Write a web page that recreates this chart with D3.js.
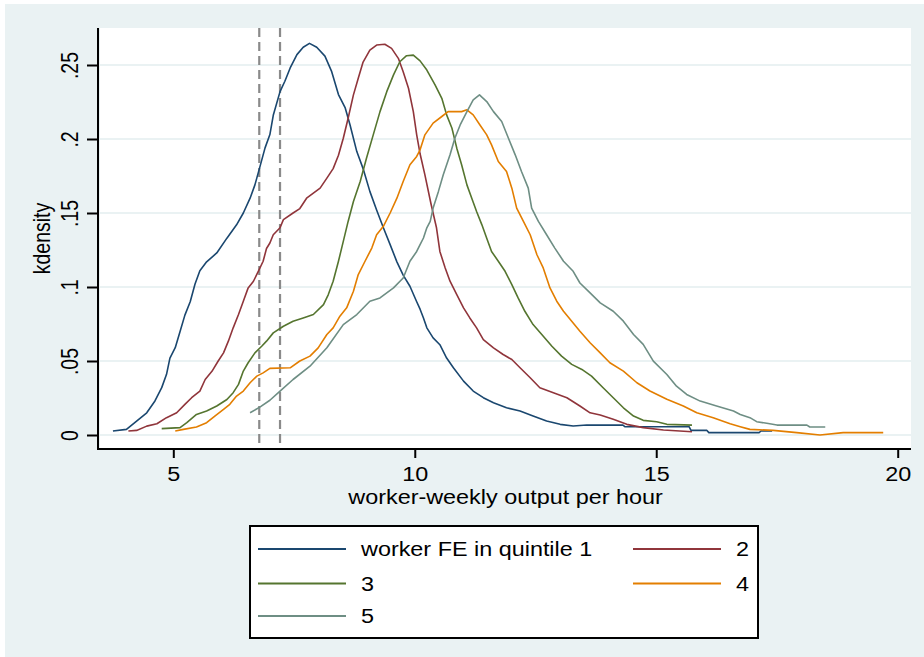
<!DOCTYPE html>
<html>
<head>
<meta charset="utf-8">
<script src="https://cdn.jsdelivr.net/npm/d3@7"></script>
<style>
  html, body { margin: 0; padding: 0; background: #ffffff; }
  svg { display: block; }
  text { font-family: "Liberation Sans", Arial, sans-serif; fill: #000; }
</style>
</head>
<body>
<svg id="chart" width="924" height="657"></svg>
<script>
// Kernel density of worker-weekly output per hour, by worker fixed-effect quintile
const quintile1 = [[3.75,.0027],[4.03,.0038],[4.24,.0094],[4.45,.015],[4.62,.023],[4.76,.032],[4.86,.041],[4.93,.052],[5.04,.059],[5.14,.070],[5.24,.081],[5.35,.090],[5.45,.102],[5.55,.111],[5.69,.117],[5.90,.123],[6.11,.133],[6.31,.142],[6.45,.150],[6.59,.160],[6.69,.169],[6.80,.182],[6.90,.194],[7.00,.203],[7.07,.216],[7.21,.232],[7.31,.239],[7.42,.248],[7.56,.257],[7.69,.262],[7.82,.2646],[7.97,.262],[8.14,.256],[8.28,.2455],[8.42,.230],[8.56,.221],[8.66,.2095],[8.80,.1915],[8.93,.180],[9.07,.1646],[9.21,.152],[9.35,.140],[9.49,.1286],[9.63,.117],[9.76,.108],[9.90,.1005],[10.04,.090],[10.11,.085],[10.18,.079],[10.25,.0724],[10.38,.0656],[10.52,.061],[10.66,.052],[10.80,.0454],[11.01,.0364],[11.21,.0297],[11.42,.0252],[11.63,.0218],[11.90,.0184],[12.18,.0162],[12.45,.0128],[12.73,.0094],[13.01,.0072],[13.28,.0061],[13.56,.0068],[14.31,.0067],[14.35,.0056],[15.68,.0056],[15.72,.0031],[16.05,.0031],[16.09,.0016],[17.13,.0016],[17.17,.0027],[17.40,.0027]];
const quintile2 = [[4.07,.0027],[4.24,.0031],[4.45,.006],[4.66,.0076],[4.86,.0117],[5.07,.015],[5.24,.0207],[5.38,.0252],[5.55,.0297],[5.66,.0375],[5.80,.043],[5.93,.050],[6.04,.0555],[6.14,.0634],[6.24,.0724],[6.35,.0814],[6.45,.0904],[6.55,.0994],[6.66,.1039],[6.76,.1106],[6.86,.1174],[6.93,.126],[7.00,.1297],[7.07,.1353],[7.21,.140],[7.28,.1455],[7.48,.150],[7.62,.153],[7.76,.160],[7.90,.1634],[8.04,.1668],[8.18,.1736],[8.31,.180],[8.42,.189],[8.52,.2005],[8.62,.214],[8.73,.2298],[8.83,.241],[8.93,.252],[9.07,.260],[9.21,.2635],[9.38,.264],[9.52,.2612],[9.66,.2545],[9.76,.2455],[9.87,.2343],[9.97,.2185],[10.04,.2028],[10.11,.190],[10.21,.1758],[10.34,.1556],[10.45,.140],[10.52,.124],[10.63,.1129],[10.73,.1039],[10.87,.0949],[11.01,.0859],[11.14,.0791],[11.28,.0724],[11.42,.0645],[11.63,.0589],[11.83,.0544],[12.01,.051],[12.18,.0454],[12.39,.0387],[12.59,.0319],[12.87,.0286],[13.15,.0252],[13.42,.0196],[13.63,.015],[13.84,.0135],[14.11,.0106],[14.39,.0072],[14.73,.005],[15.15,.0034],[15.74,.0022]];
const quintile3 = [[4.76,.0043],[5.14,.005],[5.28,.0083],[5.48,.0139],[5.69,.0162],[5.90,.0196],[6.11,.024],[6.24,.0286],[6.35,.0342],[6.45,.0432],[6.55,.0488],[6.69,.0555],[6.83,.060],[6.93,.0634],[7.07,.069],[7.28,.0735],[7.48,.0769],[7.69,.0791],[7.90,.0814],[8.11,.0881],[8.21,.0949],[8.31,.1039],[8.42,.1174],[8.52,.1308],[8.62,.1443],[8.73,.1578],[8.87,.1713],[9.00,.187],[9.14,.2028],[9.28,.2185],[9.42,.232],[9.56,.2433],[9.69,.2522],[9.83,.2563],[9.97,.2567],[10.11,.2528],[10.25,.2466],[10.42,.2365],[10.56,.2275],[10.66,.2163],[10.77,.2073],[10.87,.1938],[10.97,.1826],[11.08,.169],[11.18,.160],[11.28,.151],[11.39,.142],[11.49,.133],[11.59,.124],[11.73,.1174],[11.87,.1106],[12.01,.1016],[12.14,.0926],[12.28,.0836],[12.45,.0746],[12.63,.0679],[12.84,.060],[13.04,.0533],[13.25,.0477],[13.46,.0443],[13.66,.0398],[13.90,.0319],[14.11,.0252],[14.32,.0184],[14.53,.0128],[14.73,.0099],[15.01,.009],[15.22,.0072],[15.74,.0067]];
const quintile4 = [[5.04,.0027],[5.21,.0038],[5.48,.0054],[5.69,.0083],[5.86,.0128],[6.04,.0173],[6.17,.0207],[6.31,.0263],[6.45,.0297],[6.59,.0353],[6.73,.0398],[6.86,.042],[7.00,.045],[7.42,.0454],[7.62,.050],[7.83,.0533],[8.00,.0589],[8.18,.0679],[8.31,.0724],[8.45,.0803],[8.59,.0859],[8.73,.0971],[8.83,.1084],[8.97,.1174],[9.11,.1263],[9.21,.1353],[9.35,.141],[9.49,.150],[9.63,.160],[9.76,.1713],[9.90,.1826],[10.04,.1882],[10.11,.1927],[10.21,.2028],[10.38,.2107],[10.56,.2152],[10.69,.2185],[10.97,.2185],[11.08,.2197],[11.21,.2163],[11.35,.2095],[11.49,.2028],[11.59,.196],[11.73,.1848],[11.90,.178],[12.01,.1668],[12.11,.1533],[12.25,.1443],[12.39,.1353],[12.53,.1218],[12.66,.1129],[12.80,.0994],[12.94,.0904],[13.08,.0836],[13.25,.0769],[13.42,.0701],[13.63,.0623],[13.84,.0555],[14.04,.0488],[14.32,.0432],[14.60,.0353],[14.87,.0297],[15.22,.0241],[15.56,.0196],[15.84,.015],[16.18,.0117],[16.53,.0076],[16.74,.0056],[16.94,.0038],[17.42,.0031],[17.91,.0016],[18.39,.0],[18.87,.0016],[19.70,.0016]];
const quintile5 = [[6.59,.015],[6.80,.019],[7.00,.0235],[7.21,.0297],[7.48,.0375],[7.83,.0465],[8.18,.0589],[8.52,.0746],[8.80,.0814],[9.07,.0904],[9.28,.0926],[9.56,.0994],[9.76,.1061],[9.90,.1174],[10.04,.124],[10.11,.1286],[10.18,.1331],[10.25,.140],[10.32,.1443],[10.38,.1533],[10.49,.1646],[10.59,.1758],[10.73,.1893],[10.83,.2005],[10.94,.2095],[11.08,.2185],[11.21,.2264],[11.34,.2298],[11.49,.2253],[11.63,.2185],[11.80,.2118],[11.94,.2005],[12.08,.1893],[12.21,.178],[12.35,.1668],[12.42,.1533],[12.56,.1443],[12.73,.1353],[12.90,.1263],[13.08,.1174],[13.28,.1106],[13.42,.1027],[13.63,.096],[13.84,.0893],[14.11,.0836],[14.32,.0769],[14.53,.0679],[14.73,.0612],[14.94,.0499],[15.22,.0409],[15.42,.033],[15.63,.0274],[15.91,.0229],[16.25,.0196],[16.60,.0162],[16.74,.0139],[16.94,.0117],[17.08,.009],[17.29,.0079],[17.50,.0067],[18.12,.0067],[18.18,.0054],[18.50,.0054]];

const seriesNames = ["worker FE in quintile 1", "2", "3", "4", "5"];
const seriesColors = ["#1a476f", "#90353b", "#55752f", "#e37e00", "#6e8e84"];
const seriesData = [quintile1, quintile2, quintile3, quintile4, quintile5];

const xTicks = [5, 10, 15, 20];
const xTickLabels = ["5", "10", "15", "20"];
const yTicks = [0, 0.05, 0.1, 0.15, 0.2, 0.25];
const yTickLabels = ["0", ".05", ".1", ".15", ".2", ".25"];
const cutoffs = [6.78, 7.21];

const xTitle = "worker-weekly output per hour";
const yTitle = "kdensity";

// Layout
const W = 924, H = 657;
const plot = { left: 100, right: 911, top: 28, bottom: 449 };
const sx = 1.2;       // horizontal stretch of lettering
const fontSize = 19.5;

const svg = d3.select("#chart");

// Graph region background
svg.append("rect").attr("x", 5).attr("y", 4).attr("width", W - 5).attr("height", H - 4)
  .attr("fill", "#eaf2f3");
// Plot region
svg.append("rect").attr("x", plot.left).attr("y", plot.top)
  .attr("width", plot.right - plot.left).attr("height", plot.bottom - plot.top)
  .attr("fill", "#ffffff");

const x = d3.scaleLinear().domain([5, 20]).range([173.3, 897.7]);
const y = d3.scaleLinear().domain([0, 0.25]).range([435, 65]);

// Horizontal gridlines
svg.append("g").selectAll("line").data(yTicks).join("line")
  .attr("x1", plot.left).attr("x2", plot.right)
  .attr("y1", d => y(d)).attr("y2", d => y(d))
  .attr("stroke", "#eaf2f3").attr("stroke-width", 2);

// Vertical dashed reference lines
svg.append("g").selectAll("line").data(cutoffs).join("line")
  .attr("x1", d => x(d)).attr("x2", d => x(d))
  .attr("y1", plot.top).attr("y2", plot.bottom)
  .attr("stroke", "#8a8a8a").attr("stroke-width", 2.2)
  .attr("stroke-dasharray", "9,5");

// Density curves
const line = d3.line().x(d => x(d[0])).y(d => y(d[1]));
svg.append("g").selectAll("path").data(seriesData).join("path")
  .attr("d", line)
  .attr("fill", "none")
  .attr("stroke", (d, i) => seriesColors[i])
  .attr("stroke-width", 1.6)
  .attr("stroke-linejoin", "round");

// Axes
const xAxis = svg.append("g").attr("transform", `translate(0,${plot.bottom})`)
  .call(d3.axisBottom(x).tickValues(xTicks).tickSize(9).tickSizeOuter(0).tickFormat((d, i) => xTickLabels[i]));
xAxis.select(".domain").remove();
xAxis.selectAll(".tick line").attr("stroke", "#000").attr("stroke-width", 2);
xAxis.selectAll(".tick text")
  .attr("y", null).attr("dy", null)
  .attr("transform", `translate(0,32) scale(${sx},1)`)
  .attr("text-anchor", "middle")
  .style("font-size", fontSize + "px")
  .style("font-family", "'Liberation Sans', Arial, sans-serif")
  .attr("fill", "#000");

const yAxis = svg.append("g").attr("transform", `translate(${plot.left - 2},0)`)
  .call(d3.axisLeft(y).tickValues(yTicks).tickSize(11).tickSizeOuter(0).tickFormat((d, i) => yTickLabels[i]));
yAxis.select(".domain").remove();
yAxis.selectAll(".tick line").attr("stroke", "#000").attr("stroke-width", 2);
yAxis.selectAll(".tick text")
  .attr("x", null).attr("dy", null)
  .attr("transform", `translate(-20,0) scale(${sx},1) rotate(-90)`)
  .attr("text-anchor", "middle")
  .style("font-size", fontSize + "px")
  .style("font-family", "'Liberation Sans', Arial, sans-serif")
  .attr("fill", "#000");

svg.append("line").attr("x1", plot.left - 2).attr("x2", plot.left - 2)
  .attr("y1", plot.top).attr("y2", plot.bottom + 1)
  .attr("stroke", "#000").attr("stroke-width", 2);
svg.append("line").attr("x1", plot.left - 3).attr("x2", plot.right)
  .attr("y1", plot.bottom).attr("y2", plot.bottom)
  .attr("stroke", "#000").attr("stroke-width", 2);

// Axis titles
svg.append("text")
  .attr("transform", `translate(${(plot.left + plot.right) / 2},504) scale(${sx},1)`)
  .attr("text-anchor", "middle").style("font-size", fontSize + "px")
  .text(xTitle);
svg.append("text")
  .attr("transform", `translate(50,${(plot.top + plot.bottom) / 2}) scale(${sx},1) rotate(-90)`)
  .attr("text-anchor", "middle").style("font-size", fontSize + "px")
  .text(yTitle);

// Legend
const legend = { x: 250, y: 526, w: 508, h: 112 };
svg.append("rect").attr("x", legend.x).attr("y", legend.y)
  .attr("width", legend.w).attr("height", legend.h)
  .attr("fill", "#ffffff").attr("stroke", "#000").attr("stroke-width", 2);

const legendCols = [258, 633];
const legendRows = [549, 583.5, 616];
const items = seriesNames.map((name, i) => ({
  name, color: seriesColors[i],
  col: i % 2, row: Math.floor(i / 2)
}));
const li = svg.append("g").selectAll("g").data(items).join("g")
  .attr("transform", d => `translate(${legendCols[d.col]},${legendRows[d.row]})`);
li.append("line").attr("x1", 0).attr("x2", 88).attr("y1", 0).attr("y2", 0)
  .attr("stroke", d => d.color).attr("stroke-width", 1.8);
li.append("text")
  .attr("transform", `translate(103,7) scale(${sx},1)`)
  .style("font-size", fontSize + "px")
  .text(d => d.name);
</script>
</body>
</html>
